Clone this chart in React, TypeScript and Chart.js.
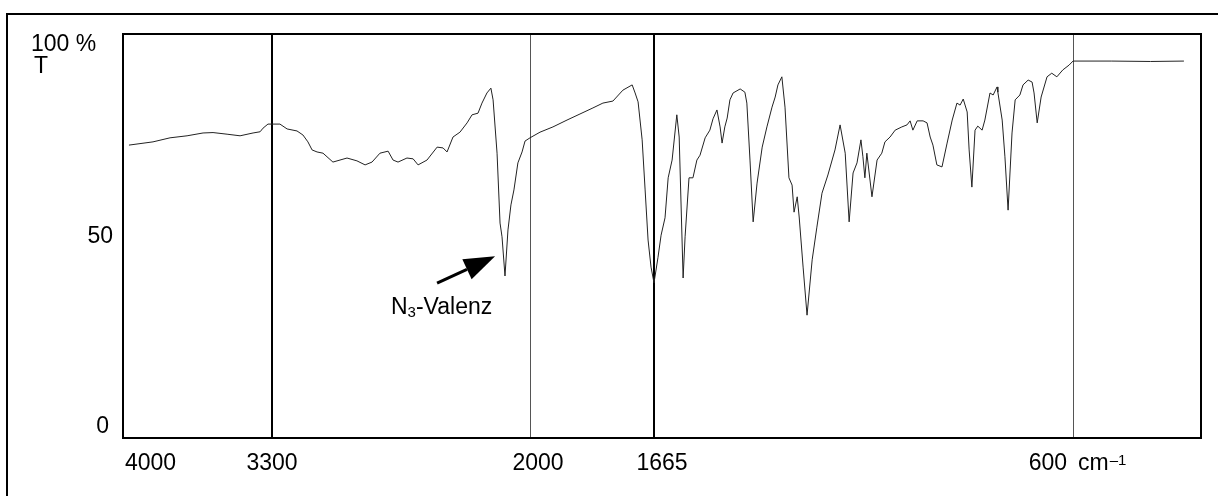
import React, { useEffect, useRef } from 'react';
import { Chart, LineController, LineElement, PointElement, LinearScale } from 'chart.js';

// ---- data ----
const WAVENUMBERS = [
  3972, 3859, 3779, 3699, 3624, 3577, 3511, 3450, 3389, 3356, 3342, 3319,
  3260, 3224, 3174, 3144, 3119, 3098, 3073, 3043, 2993, 2922, 2872, 2831,
  2796, 2756, 2715, 2690, 2665, 2620, 2589, 2564, 2519, 2468, 2438, 2418,
  2388, 2353, 2317, 2292, 2262, 2242, 2217, 2197, 2186, 2166, 2151, 2141,
  2126, 2111, 2096, 2081, 2061, 2040, 2025, 2000, 1973, 1938, 1900, 1865,
  1830, 1803, 1776, 1749, 1724, 1716, 1708, 1697, 1689, 1681, 1673, 1665,
  1655, 1647, 1637, 1629, 1619, 1607, 1601, 1591, 1586, 1576, 1566, 1556,
  1548, 1535, 1523, 1515, 1505, 1497, 1492, 1485, 1479, 1472, 1464, 1446,
  1434, 1429, 1421, 1413, 1403, 1390, 1378, 1365, 1357, 1350, 1340, 1332,
  1322, 1314, 1309, 1301, 1296, 1286, 1276, 1263, 1251, 1238, 1223, 1205,
  1192, 1179, 1169, 1159, 1149, 1139, 1134, 1129, 1124, 1111, 1098, 1086,
  1078, 1065, 1052, 1035, 1022, 1014, 1007, 996, 981, 971, 963, 956,
  946, 933, 920, 907, 895, 887, 879, 869, 864, 857, 849, 842,
  831, 824, 811, 803, 793, 791, 780, 773, 765, 755, 747, 735,
  727, 714, 704, 699, 691, 681, 666, 654, 641, 626, 610, 600,
  500, 400, 314,
];
const TRANSMITTANCE = [
  72.5, 73.3, 74.3, 74.8, 75.5, 75.6, 75.2, 74.8, 75.5, 75.8, 76.7, 77.7,
  77.7, 76.5, 76.0, 75.0, 73.3, 71.3, 70.8, 70.5, 68.3, 69.3, 68.6, 67.6,
  68.3, 70.5, 71.0, 68.8, 68.3, 69.3, 69.1, 67.6, 68.8, 72.0, 71.8, 70.8,
  74.5, 75.7, 78.0, 80.0, 80.4, 82.9, 85.4, 86.6, 83.7, 70.5, 53.2, 49.8,
  40.1, 51.5, 57.7, 61.4, 68.1, 70.8, 73.5, 74.3, 75.7, 77.0, 78.7, 80.2,
  81.7, 82.9, 83.4, 86.1, 87.4, 85.4, 83.2, 73.8, 61.4, 49.0, 42.3, 38.4,
  44.6, 50.2, 54.5, 64.4, 68.8, 80.0, 74.5, 39.6, 49.8, 64.4, 64.4, 68.8,
  70.0, 74.3, 76.2, 79.0, 81.2, 77.0, 73.0, 77.0, 79.2, 83.7, 85.4, 86.4,
  85.6, 82.9, 68.8, 53.5, 63.1, 72.0, 77.0, 81.9, 84.4, 87.4, 89.4, 81.9,
  64.4, 62.6, 55.9, 59.7, 54.7, 42.3, 30.4, 44.1, 52.2, 60.6, 65.1, 71.3,
  77.5, 70.5, 53.5, 65.6, 68.1, 73.8, 69.6, 64.4, 70.5, 59.7, 68.8, 70.5,
  73.3, 74.5, 76.2, 77.0, 77.5, 78.5, 76.2, 78.5, 78.5, 78.0, 74.5, 72.5,
  67.6, 67.1, 73.0, 78.7, 82.9, 82.4, 83.9, 80.7, 71.3, 62.1, 76.2, 77.2,
  76.2, 78.7, 85.4, 84.9, 86.9, 85.6, 78.7, 69.6, 56.4, 75.5, 83.7, 84.9,
  87.4, 88.6, 88.1, 85.4, 78.0, 84.4, 89.4, 90.3, 89.4, 91.1, 92.3, 93.3,
  93.3, 93.2, 93.3,
];

const X_TICKS = [4000, 3300, 2000, 1665, 600];
const X_TICK_LABELS = ['4000', '3300', '2000', '1665', '600'];
const X_UNIT = 'cm';
const X_UNIT_EXP = '\u20131';
const Y_TICKS = [0, 50, 100];
const Y_TICK_LABELS = ['0', '50', '100 %'];
const Y_TITLE = 'T';
const ANNOTATION_MAIN = 'N';
const ANNOTATION_SUB = '3';
const ANNOTATION_REST = '-Valenz';
const ANNOTATION_TARGET_WN = 2176;
const ANNOTATION_TARGET_T = 45;

// ---- segmented wavenumber axis (two different scale factors as in the print) ----
const WN_BREAKS = [4000, 3300, 2000, 1665, 600, 270];
const POS_BREAKS = [0, 149, 407, 531, 950, 1078];

function wnFrac(v: number): number {
  const n = WN_BREAKS.length;
  const total = POS_BREAKS[n - 1];
  let i = 0;
  if (v >= WN_BREAKS[0]) i = 0;
  else if (v <= WN_BREAKS[n - 1]) i = n - 2;
  else {
    for (let k = 0; k < n - 1; k++) {
      if (v <= WN_BREAKS[k] && v >= WN_BREAKS[k + 1]) { i = k; break; }
    }
  }
  const a = WN_BREAKS[i], b = WN_BREAKS[i + 1];
  const pa = POS_BREAKS[i], pb = POS_BREAKS[i + 1];
  return (pa + ((a - v) / (a - b)) * (pb - pa)) / total;
}

function fracWn(f: number): number {
  const n = WN_BREAKS.length;
  const p = f * POS_BREAKS[n - 1];
  let i = n - 2;
  for (let k = 0; k < n - 1; k++) {
    if (p <= POS_BREAKS[k + 1]) { i = k; break; }
  }
  const a = WN_BREAKS[i], b = WN_BREAKS[i + 1];
  const pa = POS_BREAKS[i], pb = POS_BREAKS[i + 1];
  return a - ((p - pa) / (pb - pa)) * (a - b);
}

class IrWavenumberScale extends LinearScale {
  static id = 'irWavenumber';
  static defaults = LinearScale.defaults;
  getPixelForValue(value: number) {
    return this.left + wnFrac(value) * this.width;
  }
  getValueForPixel(pixel: number) {
    return fracWn((pixel - this.left) / this.width);
  }
}

Chart.register(LineController, LineElement, PointElement, LinearScale, IrWavenumberScale);

const FONT_FAMILY = '"Liberation Sans", Arial, Helvetica, sans-serif';
const FONT = `23px ${FONT_FAMILY}`;
const FONT_SMALL = `15px ${FONT_FAMILY}`;

const decorPlugin = {
  id: 'irDecor',
  afterDraw(chart: any) {
    const { ctx, chartArea: ca } = chart;
    const xs = chart.scales.x;
    const ys = chart.scales.y;
    ctx.save();
    // outer frame (runs off the picture at right and bottom)
    ctx.strokeStyle = '#000';
    ctx.lineWidth = 2;
    ctx.strokeRect(7, 14, 1260, 540);
    // plot frame
    ctx.strokeRect(ca.left, ca.top, ca.right - ca.left, ca.bottom - ca.top);

    ctx.fillStyle = '#000';
    ctx.font = FONT;
    ctx.textBaseline = 'middle';

    // x tick labels
    const ly = 464;
    X_TICKS.forEach((v, i) => {
      const px = xs.getPixelForValue(v);
      const label = X_TICK_LABELS[i];
      if (i === 0) {
        ctx.textAlign = 'left';
        ctx.fillText(label, px + 2, ly);
      } else if (i === X_TICKS.length - 1) {
        ctx.textAlign = 'right';
        ctx.fillText(label, px - 6, ly);
        ctx.textAlign = 'left';
        ctx.fillText(X_UNIT, px + 5, ly);
        const w = ctx.measureText(X_UNIT).width;
        ctx.font = FONT_SMALL;
        ctx.fillText(X_UNIT_EXP, px + 5 + w + 1, ly - 3);
        ctx.font = FONT;
      } else {
        ctx.textAlign = 'center';
        const off = v === 3300 ? 0 : 8;
        ctx.fillText(label, px + off, ly);
      }
    });

    // y tick labels
    Y_TICKS.forEach((v, i) => {
      const py = ys.getPixelForValue(v);
      const label = Y_TICK_LABELS[i];
      if (v === 100) {
        ctx.textAlign = 'left';
        ctx.fillText(label, 31, py + 11);
        ctx.fillText(Y_TITLE, 34, py + 33);
      } else if (v === 0) {
        ctx.textAlign = 'right';
        ctx.fillText(label, 109, py - 11);
      } else {
        ctx.textAlign = 'right';
        ctx.fillText(label, 113, py + 1);
      }
    });

    // annotation arrow
    const tx = xs.getPixelForValue(ANNOTATION_TARGET_WN);
    const ty = ys.getPixelForValue(ANNOTATION_TARGET_T);
    const sx = tx - 58, sy = ty + 27;
    const ang = Math.atan2(ty - sy, tx - sx);
    const headLen = 31, headHalf = 11;
    const bx = tx - headLen * Math.cos(ang), by = ty - headLen * Math.sin(ang);
    ctx.lineWidth = 3;
    ctx.beginPath();
    ctx.moveTo(sx, sy);
    ctx.lineTo(bx, by);
    ctx.stroke();
    ctx.beginPath();
    ctx.moveTo(tx, ty);
    ctx.lineTo(bx + headHalf * Math.sin(ang), by - headHalf * Math.cos(ang));
    ctx.lineTo(bx - headHalf * Math.sin(ang), by + headHalf * Math.cos(ang));
    ctx.closePath();
    ctx.fill();

    // annotation text
    const ax = 391, ay = 308;
    ctx.textAlign = 'left';
    ctx.font = FONT;
    ctx.fillText(ANNOTATION_MAIN, ax, ay);
    let cx = ax + ctx.measureText(ANNOTATION_MAIN).width;
    ctx.font = FONT_SMALL;
    ctx.fillText(ANNOTATION_SUB, cx, ay + 5);
    cx += ctx.measureText(ANNOTATION_SUB).width;
    ctx.font = FONT;
    ctx.fillText(ANNOTATION_REST, cx, ay);
    ctx.restore();
  },
};

export default function App() {
  const canvasRef = useRef<HTMLCanvasElement | null>(null);

  useEffect(() => {
    const canvas = canvasRef.current;
    if (!canvas) return;
    const points = WAVENUMBERS.map((wn, i) => ({ x: wn, y: TRANSMITTANCE[i] }));
    const chart = new Chart(canvas, {
      type: 'line',
      data: {
        datasets: [
          {
            data: points,
            borderColor: '#222',
            borderWidth: 1,
            pointRadius: 0,
            tension: 0,
            fill: false,
          },
        ],
      },
      options: {
        responsive: false,
        animation: false,
        events: [],
        layout: { padding: { left: 123, top: 34, right: 17, bottom: 58 } },
        plugins: { legend: { display: false }, tooltip: { enabled: false } },
        scales: {
          x: {
            type: 'irWavenumber' as any,
            min: 270,
            max: 4000,
            afterBuildTicks: (scale: any) => {
              scale.ticks = X_TICKS.map((v) => ({ value: v }));
            },
            ticks: { display: false },
            border: { display: false },
            grid: {
              drawTicks: false,
              color: (c: any) => (c.tick && (c.tick.value === 3300 || c.tick.value === 1665) ? '#000' : '#555'),
              lineWidth: (c: any) => {
                const v = c.tick ? c.tick.value : 0;
                if (v === 4000) return 0;
                if (v === 3300 || v === 1665) return 2;
                return 1;
              },
            },
          },
          y: {
            type: 'linear',
            min: 0,
            max: 100,
            display: false,
          },
        },
      },
      plugins: [decorPlugin],
    });
    return () => chart.destroy();
  }, []);

  return (
    <div style={{ position: 'fixed', left: 0, top: 0, width: 1218, height: 496, background: '#fff' }}>
      <canvas ref={canvasRef} width={1218} height={496} style={{ display: 'block' }} />
    </div>
  );
}
